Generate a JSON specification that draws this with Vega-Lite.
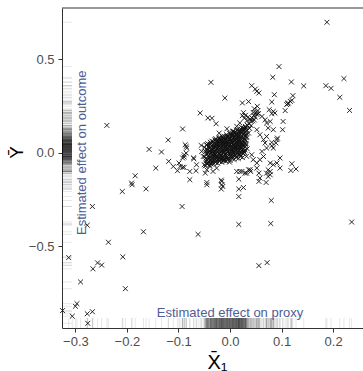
{
"$schema": "https://vega.github.io/schema/vega-lite/v6.json",
"width": 301, "height": 320,
"autosize": {"type": "none"},
"padding": {"left": 62, "top": 8, "right": 0, "bottom": 43},
"background": "white",
"config": {
  "view": {"stroke": null},
  "axis": {"grid": false, "labelFont": "Liberation Sans", "labelFontSize": 13, "labelColor": "#4d4d4d", "tickColor": "#333333", "domainColor": "#333333", "tickSize": 4, "domainWidth": 1, "tickWidth": 1, "titleFont": "Liberation Sans, DejaVu Sans", "titleFontWeight": "normal", "titleColor": "#000000"}
},
"data": {"values": [
{"x":-0.313,"y":-0.56},{"x":-0.29,"y":-0.69},{"x":-0.297,"y":-0.806},{"x":-0.3,"y":-0.82},{"x":-0.325,"y":-0.843},{"x":-0.306,"y":-0.873},{"x":-0.277,"y":-0.86},{"x":-0.267,"y":-0.849},{"x":-0.276,"y":-0.911},{"x":-0.266,"y":-0.62},{"x":-0.257,"y":-0.588},{"x":-0.249,"y":-0.6},{"x":-0.236,"y":-0.478},{"x":-0.208,"y":-0.556},{"x":-0.203,"y":-0.726},{"x":-0.277,"y":-0.387},{"x":-0.267,"y":-0.287},{"x":-0.209,"y":-0.207},{"x":-0.163,"y":-0.193},{"x":-0.168,"y":-0.422},{"x":-0.19,"y":-0.171},
{"x":-0.239,"y":0.146},{"x":-0.157,"y":0.018},{"x":-0.133,"y":0.004},{"x":-0.12,"y":0.068},{"x":-0.144,"y":-0.082},{"x":-0.119,"y":-0.046},{"x":-0.11,"y":-0.073},{"x":-0.102,"y":-0.096},{"x":-0.184,"y":-0.123},{"x":-0.191,"y":-0.162},
{"x":-0.092,"y":0.127},{"x":-0.085,"y":0.034},{"x":-0.085,"y":-0.002},{"x":-0.089,"y":-0.023},{"x":-0.099,"y":-0.055},{"x":-0.092,"y":-0.078},{"x":-0.089,"y":-0.078},{"x":-0.078,"y":-0.1},{"x":-0.07,"y":-0.032},{"x":-0.065,"y":-0.064},{"x":-0.066,"y":-0.096},{"x":-0.078,"y":-0.144},{"x":-0.093,"y":-0.287},{"x":-0.062,"y":-0.436},
{"x":-0.045,"y":-0.171},{"x":-0.017,"y":-0.194},{"x":-0.014,"y":-0.18},{"x":0.017,"y":-0.194},{"x":0.026,"y":-0.186},{"x":0.017,"y":-0.234},{"x":0.08,"y":-0.255},{"x":0.017,"y":-0.383},{"x":0.079,"y":-0.378},{"x":0.056,"y":-0.603},{"x":0.072,"y":-0.587},{"x":0.236,"y":-0.37},
{"x":-0.017,"y":-0.146},{"x":-0.016,"y":-0.171},{"x":0.017,"y":-0.141},{"x":0.032,"y":-0.109},{"x":0.039,"y":-0.091},{"x":0.056,"y":-0.109},{"x":0.058,"y":-0.135},{"x":0.056,"y":-0.153},{"x":0.071,"y":-0.109},{"x":0.074,"y":-0.127},{"x":0.078,"y":-0.1},{"x":0.07,"y":-0.159},{"x":0.097,"y":-0.082},{"x":0.12,"y":-0.059},{"x":0.118,"y":-0.095},{"x":0.128,"y":-0.087},
{"x":0.091,"y":0.07},{"x":0.081,"y":0.055},{"x":0.084,"y":0.025},{"x":0.071,"y":0.087},{"x":0.062,"y":0.007},{"x":0.065,"y":-0.02},{"x":0.058,"y":-0.037},{"x":0.078,"y":-0.055},{"x":0.084,"y":-0.064},{"x":0.091,"y":-0.055},{"x":0.097,"y":-0.028},{"x":0.052,"y":-0.055},{"x":0.045,"y":-0.037},{"x":0.042,"y":-0.011},{"x":0.04,"y":-0.1},{"x":0.023,"y":-0.1},{"x":0.029,"y":-0.109},{"x":0.036,"y":-0.091},{"x":0.052,"y":-0.082},
{"x":-0.087,"y":0.043},{"x":-0.084,"y":0.025},{"x":-0.089,"y":-0.011},{"x":-0.092,"y":-0.028},{"x":-0.056,"y":0.039},{"x":-0.055,"y":0.007},{"x":-0.052,"y":-0.02},{"x":-0.048,"y":-0.109},{"x":-0.045,"y":-0.091},{"x":-0.05,"y":-0.064},{"x":-0.039,"y":-0.073},{"x":-0.033,"y":-0.1},{"x":-0.026,"y":-0.082},{"x":-0.097,"y":-0.073},{"x":-0.071,"y":-0.028},{"x":-0.045,"y":-0.159},{"x":-0.016,"y":-0.153},{"x":0.013,"y":-0.1},{"x":0.019,"y":-0.1},{"x":0.078,"y":-0.118},{"x":0.074,"y":-0.091},
{"x":0.095,"y":0.46},{"x":0.083,"y":0.403},{"x":0.119,"y":0.378},{"x":-0.037,"y":0.376},{"x":0.042,"y":0.358},{"x":0.049,"y":0.34},{"x":0.052,"y":0.328},{"x":0.056,"y":0.319},{"x":-0.01,"y":0.292},{"x":0.086,"y":0.31},{"x":0.122,"y":0.305},{"x":0.024,"y":0.266},{"x":0.036,"y":0.273},{"x":0.053,"y":0.248},{"x":0.081,"y":0.271},{"x":0.076,"y":0.23},{"x":0.084,"y":0.221},{"x":0.087,"y":0.212},{"x":0.081,"y":0.209},{"x":0.107,"y":0.225},{"x":0.113,"y":0.266},{"x":0.117,"y":0.274},{"x":0.12,"y":0.28},{"x":0.112,"y":0.262},{"x":0.11,"y":0.257},
{"x":-0.058,"y":0.212},{"x":-0.043,"y":0.186},{"x":-0.035,"y":0.184},{"x":-0.027,"y":0.155},{"x":-0.006,"y":0.128},{"x":-0.021,"y":0.105},
{"x":0.188,"y":0.697},{"x":0.143,"y":0.357},{"x":0.186,"y":0.358},{"x":0.196,"y":0.344},{"x":0.221,"y":0.396},{"x":0.213,"y":0.296},{"x":0.232,"y":0.226},{"x":0.103,"y":0.167},{"x":0.102,"y":0.123},{"x":0.092,"y":0.078},
{"x":0.026,"y":0.214},{"x":0.03,"y":0.2},{"x":0.035,"y":0.19},{"x":0.039,"y":0.18},{"x":0.044,"y":0.17},{"x":0.033,"y":0.172},{"x":0.028,"y":0.185},{"x":0.024,"y":0.198},{"x":0.055,"y":0.209},{"x":0.062,"y":0.194},{"x":0.068,"y":0.176},{"x":0.071,"y":0.159},{"x":0.078,"y":0.167},{"x":0.074,"y":0.132},{"x":0.084,"y":0.123},{"x":0.089,"y":0.052},{"x":0.081,"y":0.037},{"x":0.071,"y":0.025},{"x":0.052,"y":0.123},{"x":0.058,"y":0.096},{"x":0.065,"y":0.07},{"x":0.068,"y":0.052},{"x":0.019,"y":0.159},{"x":0.013,"y":0.141},{"x":0.006,"y":0.114},
{"x":0.037,"y":0.155},{"x":0.038,"y":0.13},{"x":0.04,"y":0.17},{"x":0.041,"y":0.145},{"x":0.043,"y":0.185},{"x":0.046,"y":0.2},{"x":0.047,"y":0.175},{"x":0.049,"y":0.19},{"x":0.05,"y":0.215},{"x":0.052,"y":0.205},{"x":0.054,"y":0.225},{"x":0.047,"y":0.235},{"x":0.045,"y":0.215},{"x":0.036,"y":0.105},{"x":0.034,"y":0.145},{"x":0.031,"y":0.09},{"x":0.033,"y":0.12},{"x":0.03,"y":0.135},
{"x":-0.048,"y":-0.07},{"x":-0.0467,"y":-0.044},{"x":-0.0491,"y":-0.021},{"x":-0.0473,"y":0.006},{"x":-0.0497,"y":0.029},
{"x":-0.044,"y":-0.061},{"x":-0.0427,"y":-0.036},{"x":-0.0451,"y":-0.008},{"x":-0.0433,"y":0.016},{"x":-0.0457,"y":0.041},
{"x":-0.04,"y":-0.066},{"x":-0.0387,"y":-0.039},{"x":-0.0411,"y":-0.016},{"x":-0.0393,"y":0.011},{"x":-0.0417,"y":0.034},{"x":-0.0381,"y":0.056},
{"x":-0.036,"y":-0.054},{"x":-0.0347,"y":-0.031},{"x":-0.0371,"y":-0.004},{"x":-0.0353,"y":0.021},{"x":-0.0377,"y":0.044},
{"x":-0.032,"y":-0.061},{"x":-0.0307,"y":-0.039},{"x":-0.0331,"y":-0.021},{"x":-0.0313,"y":0.001},{"x":-0.0337,"y":0.019},{"x":-0.0301,"y":0.041},{"x":-0.0325,"y":0.059},
{"x":-0.028,"y":-0.051},{"x":-0.0267,"y":-0.029},{"x":-0.0291,"y":-0.011},{"x":-0.0273,"y":0.011},{"x":-0.0297,"y":0.029},{"x":-0.0261,"y":0.051},{"x":-0.0285,"y":0.069},
{"x":-0.024,"y":-0.056},{"x":-0.0227,"y":-0.034},{"x":-0.0251,"y":-0.016},{"x":-0.0233,"y":0.006},{"x":-0.0257,"y":0.024},{"x":-0.0221,"y":0.046},{"x":-0.0245,"y":0.064},
{"x":-0.02,"y":-0.046},{"x":-0.0187,"y":-0.024},{"x":-0.0211,"y":-0.006},{"x":-0.0193,"y":0.016},{"x":-0.0217,"y":0.034},{"x":-0.0181,"y":0.056},{"x":-0.0205,"y":0.074},
{"x":-0.016,"y":-0.051},{"x":-0.0147,"y":-0.029},{"x":-0.0171,"y":-0.011},{"x":-0.0153,"y":0.011},{"x":-0.0177,"y":0.029},{"x":-0.0141,"y":0.051},{"x":-0.0165,"y":0.069},{"x":-0.015,"y":0.086},
{"x":-0.012,"y":-0.041},{"x":-0.0107,"y":-0.019},{"x":-0.0131,"y":-0.001},{"x":-0.0113,"y":0.021},{"x":-0.0137,"y":0.039},{"x":-0.0101,"y":0.061},{"x":-0.0125,"y":0.079},
{"x":-0.008,"y":-0.046},{"x":-0.0067,"y":-0.024},{"x":-0.0091,"y":-0.006},{"x":-0.0073,"y":0.016},{"x":-0.0097,"y":0.034},{"x":-0.0061,"y":0.056},{"x":-0.0085,"y":0.074},{"x":-0.007,"y":0.096},
{"x":-0.004,"y":-0.036},{"x":-0.0027,"y":-0.014},{"x":-0.0051,"y":0.004},{"x":-0.0033,"y":0.026},{"x":-0.0057,"y":0.044},{"x":-0.0021,"y":0.066},{"x":-0.0045,"y":0.084},
{"x":0.0,"y":-0.041},{"x":0.0013,"y":-0.019},{"x":-0.0011,"y":-0.001},{"x":0.0007,"y":0.021},{"x":-0.0017,"y":0.039},{"x":0.0019,"y":0.061},{"x":-0.0005,"y":0.079},{"x":0.001,"y":0.101},
{"x":0.004,"y":-0.031},{"x":0.0053,"y":-0.009},{"x":0.0029,"y":0.009},{"x":0.0047,"y":0.031},{"x":0.0023,"y":0.049},{"x":0.0059,"y":0.071},{"x":0.0035,"y":0.089},{"x":0.005,"y":0.111},
{"x":0.008,"y":-0.036},{"x":0.0093,"y":-0.014},{"x":0.0069,"y":0.004},{"x":0.0087,"y":0.026},{"x":0.0063,"y":0.044},{"x":0.0099,"y":0.066},{"x":0.0075,"y":0.084},{"x":0.009,"y":0.106},
{"x":0.012,"y":-0.026},{"x":0.0133,"y":-0.004},{"x":0.0109,"y":0.014},{"x":0.0127,"y":0.036},{"x":0.0103,"y":0.054},{"x":0.0139,"y":0.076},{"x":0.0115,"y":0.094},{"x":0.013,"y":0.121},
{"x":0.016,"y":-0.031},{"x":0.0173,"y":-0.009},{"x":0.0149,"y":0.009},{"x":0.0167,"y":0.031},{"x":0.0143,"y":0.049},{"x":0.0179,"y":0.071},{"x":0.0155,"y":0.089},{"x":0.017,"y":0.111},
{"x":0.02,"y":-0.021},{"x":0.0213,"y":0.001},{"x":0.0189,"y":0.019},{"x":0.0207,"y":0.041},{"x":0.0183,"y":0.059},{"x":0.0219,"y":0.081},{"x":0.0195,"y":0.099},{"x":0.021,"y":0.126},
{"x":0.024,"y":-0.026},{"x":0.0253,"y":-0.004},{"x":0.0229,"y":0.014},{"x":0.0247,"y":0.036},{"x":0.0223,"y":0.054},{"x":0.0259,"y":0.081},{"x":0.0235,"y":0.104},{"x":0.025,"y":0.131},
{"x":0.028,"y":0.001},{"x":0.0293,"y":0.031},{"x":0.0269,"y":0.059},{"x":0.0287,"y":0.091},{"x":0.0263,"y":0.119},{"x":0.0299,"y":0.141},
{"x":0.032,"y":-0.019},{"x":0.0333,"y":0.021},{"x":0.0309,"y":0.049},{"x":0.0327,"y":0.081},{"x":0.0303,"y":0.111},{"x":0.0339,"y":0.146},
{"x":-0.0451,"y":-0.058},{"x":-0.0472,"y":-0.032},{"x":-0.0444,"y":-0.008},{"x":-0.0464,"y":0.018},{"x":-0.0449,"y":0.042},
{"x":-0.0426,"y":-0.052},{"x":-0.0414,"y":-0.026},{"x":-0.0428,"y":0.0},{"x":-0.0411,"y":0.026},{"x":-0.0432,"y":0.048},
{"x":-0.0371,"y":-0.06},{"x":-0.0392,"y":-0.026},{"x":-0.0364,"y":0.0},{"x":-0.0384,"y":0.028},{"x":-0.0369,"y":0.05},
{"x":-0.0355,"y":-0.045},{"x":-0.0334,"y":-0.012},{"x":-0.0348,"y":0.01},{"x":-0.0331,"y":0.032},{"x":-0.0352,"y":0.062},
{"x":-0.0291,"y":-0.05},{"x":-0.0312,"y":-0.03},{"x":-0.0284,"y":-0.01},{"x":-0.0304,"y":0.01},{"x":-0.0289,"y":0.03},{"x":-0.0315,"y":0.05},{"x":-0.0294,"y":0.068},
{"x":-0.0268,"y":-0.04},{"x":-0.0251,"y":-0.02},{"x":-0.0272,"y":0.0},{"x":-0.0244,"y":0.02},{"x":-0.0264,"y":0.04},{"x":-0.0249,"y":0.06},{"x":-0.0275,"y":0.075},
{"x":-0.0211,"y":-0.045},{"x":-0.0232,"y":-0.025},{"x":-0.0204,"y":-0.005},{"x":-0.0224,"y":0.015},{"x":-0.0209,"y":0.035},{"x":-0.0235,"y":0.055},{"x":-0.0214,"y":0.078},
{"x":-0.0188,"y":-0.035},{"x":-0.0171,"y":-0.015},{"x":-0.0192,"y":0.005},{"x":-0.0164,"y":0.025},{"x":-0.0184,"y":0.045},{"x":-0.0169,"y":0.065},{"x":-0.0195,"y":0.082},
{"x":-0.0131,"y":-0.04},{"x":-0.0152,"y":-0.02},{"x":-0.0124,"y":0.0},{"x":-0.0144,"y":0.02},{"x":-0.0129,"y":0.04},{"x":-0.0155,"y":0.06},{"x":-0.0134,"y":0.078},
{"x":-0.0108,"y":-0.03},{"x":-0.0091,"y":-0.01},{"x":-0.0112,"y":0.01},{"x":-0.0084,"y":0.03},{"x":-0.0104,"y":0.05},{"x":-0.0089,"y":0.07},{"x":-0.0115,"y":0.088},
{"x":-0.0051,"y":-0.035},{"x":-0.0072,"y":-0.015},{"x":-0.0044,"y":0.005},{"x":-0.0064,"y":0.025},{"x":-0.0049,"y":0.045},{"x":-0.0075,"y":0.065},{"x":-0.0054,"y":0.085},
{"x":-0.0028,"y":-0.03},{"x":-0.0011,"y":-0.01},{"x":-0.0032,"y":0.01},{"x":-0.0004,"y":0.03},{"x":-0.0024,"y":0.05},{"x":-0.0009,"y":0.07},{"x":-0.0035,"y":0.09},{"x":-0.0014,"y":0.105},
{"x":0.0029,"y":-0.025},{"x":0.0008,"y":-0.005},{"x":0.0036,"y":0.015},{"x":0.0016,"y":0.035},{"x":0.0031,"y":0.055},{"x":0.0005,"y":0.075},{"x":0.0026,"y":0.095},
{"x":0.0052,"y":-0.02},{"x":0.0069,"y":0.0},{"x":0.0048,"y":0.02},{"x":0.0076,"y":0.04},{"x":0.0056,"y":0.06},{"x":0.0071,"y":0.08},{"x":0.0045,"y":0.1},{"x":0.0066,"y":0.115},
{"x":0.0109,"y":-0.015},{"x":0.0088,"y":0.005},{"x":0.0116,"y":0.025},{"x":0.0096,"y":0.045},{"x":0.0111,"y":0.065},{"x":0.0085,"y":0.085},{"x":0.0106,"y":0.11},
{"x":0.0132,"y":-0.02},{"x":0.0149,"y":0.0},{"x":0.0128,"y":0.02},{"x":0.0156,"y":0.04},{"x":0.0136,"y":0.06},{"x":0.0151,"y":0.08},{"x":0.0125,"y":0.1},{"x":0.0146,"y":0.125},
{"x":0.0189,"y":-0.01},{"x":0.0168,"y":0.01},{"x":0.0196,"y":0.03},{"x":0.0176,"y":0.05},{"x":0.0191,"y":0.07},{"x":0.0165,"y":0.09},{"x":0.0186,"y":0.115},
{"x":0.0212,"y":-0.01},{"x":0.0229,"y":0.01},{"x":0.0208,"y":0.03},{"x":0.0236,"y":0.05},{"x":0.0216,"y":0.07},{"x":0.0231,"y":0.09},{"x":0.0205,"y":0.115},{"x":0.0226,"y":0.135},
{"x":0.0269,"y":0.01},{"x":0.0248,"y":0.045},{"x":0.0276,"y":0.075},{"x":0.0256,"y":0.1},{"x":0.0271,"y":0.13},
{"x":0.0292,"y":0.015},{"x":0.0309,"y":0.04},{"x":0.0288,"y":0.07},{"x":0.0316,"y":0.1},{"x":0.0296,"y":0.125},
{"x":-0.029,"y":-0.02},{"x":-0.025,"y":0.035},{"x":-0.023,"y":-0.04},{"x":-0.021,"y":0.065},{"x":-0.019,"y":0.045},{"x":-0.017,"y":-0.035},{"x":-0.015,"y":0.035},{"x":-0.013,"y":0.01},{"x":-0.011,"y":0.045},{"x":-0.009,"y":-0.04},{"x":-0.007,"y":0.085},{"x":-0.005,"y":0.015},{"x":-0.003,"y":0.058},{"x":-0.001,"y":-0.05},{"x":0.001,"y":0.045},{"x":0.003,"y":0.065},{"x":0.005,"y":0.005},{"x":0.007,"y":0.095},{"x":0.009,"y":0.035},{"x":0.011,"y":0.075},{"x":0.013,"y":0.105},{"x":0.015,"y":0.02},{"x":0.017,"y":0.06},{"x":0.019,"y":0.08},{"x":0.021,"y":0.11},{"x":0.023,"y":0.025},{"x":-0.027,"y":0.015},{"x":-0.031,"y":0.025},{"x":-0.033,"y":-0.05},{"x":-0.035,"y":0.035},{"x":-0.037,"y":-0.02},{"x":-0.039,"y":0.045},{"x":-0.041,"y":-0.05},{"x":-0.043,"y":0.005},{"x":0.025,"y":0.065},{"x":0.027,"y":0.105},{"x":0.029,"y":0.05},{"x":0.031,"y":0.065},{"x":-0.0195,"y":-0.015},{"x":-0.0135,"y":0.065},{"x":-0.0075,"y":0.045},{"x":-0.0015,"y":0.015},{"x":0.0045,"y":0.06},{"x":0.0105,"y":0.035},{"x":0.0165,"y":0.1},{"x":0.0225,"y":0.045},{"x":-0.0255,"y":0.045},{"x":-0.0315,"y":-0.005},{"x":-0.0375,"y":0.015},{"x":0.0015,"y":0.088},{"x":0.0075,"y":0.022},{"x":-0.0045,"y":-0.022}
]},
"layer": [
  {
    "mark": {"type": "point", "shape": "M-1,-1L1,1M-1,1L1,-1", "filled": false, "color": "#111111", "strokeWidth": 0.9, "size": 24, "opacity": 1},
    "encoding": {
      "x": {"field": "x", "type": "quantitative",
            "scale": {"domain": [-0.326, 0.258], "nice": false, "zero": false},
            "axis": {"values": [-0.3, -0.2, -0.1, 0, 0.1, 0.2], "format": ".1f", "labelPadding": 3, "title": "X̄₁", "titleFontSize": 20, "titleX": 155, "titleY": 40, "titleAlign": "center", "titleBaseline": "alphabetic"}},
      "y": {"field": "y", "type": "quantitative",
            "scale": {"domain": [-0.936, 0.773], "nice": false, "zero": false},
            "axis": {"values": [-0.5, 0, 0.5], "format": ".1f", "labelPadding": 4, "title": "Ȳ", "titleFontSize": 19, "titleAngle": 270, "titleX": -46, "titleY": 144, "titleAlign": "center", "titleBaseline": "middle"}}
    }
  },
  {
    "mark": {"type": "rule", "color": "#000000", "opacity": 0.14, "strokeWidth": 0.7},
    "encoding": {
      "y": {"field": "y", "type": "quantitative"},
      "x": {"datum": -0.326, "type": "quantitative"},
      "x2": {"datum": -0.3066}
    }
  },
  {
    "mark": {"type": "rule", "color": "#000000", "opacity": 0.14, "strokeWidth": 0.7},
    "encoding": {
      "x": {"field": "x", "type": "quantitative"},
      "y": {"datum": -0.936, "type": "quantitative"},
      "y2": {"datum": -0.8826}
    }
  },
  {
    "data": {"values": [{}]},
    "mark": {"type": "rule", "color": "#333333", "strokeWidth": 1},
    "encoding": {"y": {"datum": 0.773, "type": "quantitative"}}
  },
  {
    "data": {"values": [{}]},
    "mark": {"type": "text", "angle": 270, "align": "center", "baseline": "middle", "font": "Liberation Sans", "fontSize": 13, "color": "#4F5D95"},
    "encoding": {
      "x": {"datum": -0.287, "type": "quantitative"},
      "y": {"datum": 0.0, "type": "quantitative"},
      "text": {"value": "Estimated effect on outcome"}
    }
  },
  {
    "data": {"values": [{}]},
    "mark": {"type": "text", "align": "center", "baseline": "alphabetic", "font": "Liberation Sans", "fontSize": 13, "color": "#4F5D95"},
    "encoding": {
      "x": {"datum": 0.0, "type": "quantitative"},
      "y": {"datum": -0.877, "type": "quantitative"},
      "text": {"value": "Estimated effect on proxy"}
    }
  }
]
}
